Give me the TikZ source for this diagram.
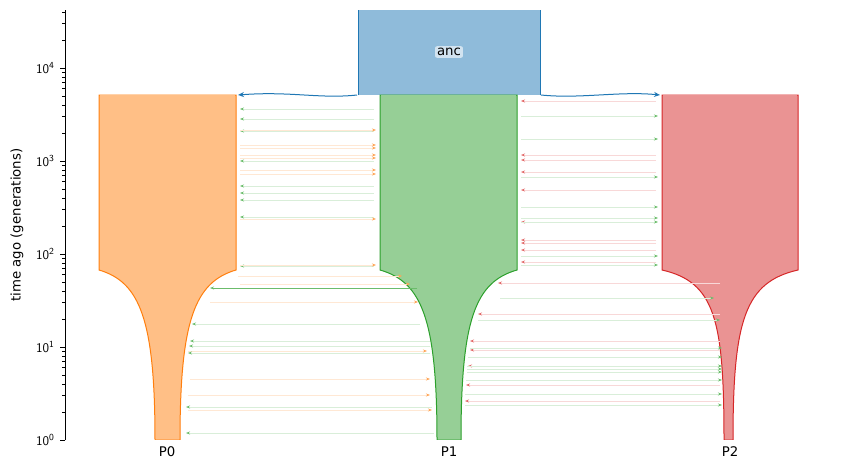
\documentclass[tikz,border=0pt]{standalone}
\usepackage{fontspec}
\setmainfont{DejaVu Sans}
\usetikzlibrary{arrows.meta}
\definecolor{tO}{HTML}{FF7F0E}\definecolor{tG}{HTML}{2CA02C}\definecolor{tR}{HTML}{D62728}\definecolor{tB}{HTML}{1F77B4}
\begin{document}
\begin{tikzpicture}[x=1pt,y=-1pt,
  lab/.style={font=\fontsize{13.3}{15}\selectfont},
  mig/.style={draw=#1!18,line width=0.7pt,-{Stealth[length=4pt,width=3pt,color=#1!70]}},
  deme/.style={line width=1pt}]
\useasboundingbox (0,0) rectangle (843,469);
% axis
\draw[line width=0.8pt] (65,10) -- (65,440);
\foreach \e in {0,...,4}{
  \draw[line width=0.8pt] (65,440-93*\e) -- (60,440-93*\e);
  \node[lab,anchor=east] (t\e) at (58,440-93*\e) {$\mathsf{10^{\e}}$};
  \foreach \m in {2,...,9}{
    \pgfmathsetmacro\yy{440-93*(\e+log10(\m))}
    \ifdim\yy pt>10pt \draw[line width=0.5pt] (65,\yy) -- (62,\yy);\fi
  }}
\node[lab,rotate=90] (yl) at (17,225) {time ago (generations)};
% anc
\fill[tB!50] (358,10) rectangle (540,95);
\draw[deme,tB] (358,95) -- (358,10) (540,10) -- (540,95);
\node[lab,fill=white,fill opacity=0.6,text opacity=1,rounded corners=2pt,inner sep=2pt] (anc) at (449,52) {anc};
% demes
\draw[deme,draw=tO,fill=tO!50] (99,95) -- (236,95) -- (236,270)
  .. controls (195,282) and (180,320) .. (180,440) -- (155,440)
  .. controls (155,320) and (140,282) .. (99,270) -- cycle;
\draw[deme,draw=tG,fill=tG!50] (380,95) -- (517,95) -- (517,270)
  .. controls (475,282) and (461,320) .. (461,440) -- (437,440)
  .. controls (437,320) and (422,282) .. (380,270) -- cycle;
\draw[deme,draw=tR,fill=tR!50] (662,95) -- (798,95) -- (798,270)
  .. controls (745,282) and (733,320) .. (733,440) -- (724,440)
  .. controls (724,320) and (715,282) .. (662,270) -- cycle;
\draw[tO!50,line width=1.4pt] (99.6,95.2) -- (235.4,95.2);
\draw[tG!50,line width=1.4pt] (380.6,95.2) -- (516.4,95.2);
\draw[tR!50,line width=1.4pt] (662.6,95.2) -- (797.4,95.2);
\draw[white,line width=1.4pt] (98,440.9) -- (182,440.9) (436,440.9) -- (462,440.9) (723,440.9) -- (734,440.9);
% ancestry arrows
\coordinate (a0) at (238,95); \coordinate (a2) at (660,95);
\draw[tB,line width=1pt,-{Stealth[length=6pt,width=5pt,open]}] (357,95) .. controls (320,99) and (290,91) .. (a0);
\draw[tB,line width=1pt,-{Stealth[length=6pt,width=5pt,open]}] (541,95) .. controls (580,99) and (620,91) .. (a2);
% migrations P0 <-> P1
\foreach \y in {109,119,131,161,186,193,200,217,266}{\draw[mig=tG] (374,\y) -- (240,\y);}
\foreach \y in {130,145,148,155,158,170,174,219,265}{\draw[mig=tO] (240,\y) -- (376,\y);}
\foreach \y/\a/\b in {276/238/402,284/240/410,302/210/418,379/190/430,395/188/430,410/188/432,351/188/427}{\draw[mig=tO] (\a,\y) -- (\b,\y);}
\foreach \y/\a/\b in {324/420/192,341/430/190,346/430/189,353/430/188,407/432/186,433/434/186}{\draw[mig=tG] (\a,\y) -- (\b,\y);}
\draw[tG!70,line width=0.6pt,-{Stealth[length=4pt,width=3pt]}] (417,288) -- (210,288);
% P1 <-> P2
\foreach \y in {101,155,160,172,190,222,240,243,250,262}{\draw[mig=tR] (656,\y) -- (521,\y);}
\foreach \y/\b in {283/498,314/478,341/470,350/470,366/468,385/466,401/465}{\draw[mig=tR] (720,\y) -- (\b,\y);}
\foreach \y in {116,139,177,207,218,222,256,265}{\draw[mig=tG] (521,\y) -- (658,\y);}
\foreach \y/\a/\b in {298/500/714,320/478/720,348/470/722,357/468/722,366/467/722,369/467/722,372/467/722,380/466/722,394/465/722,405/465/722}{\draw[mig=tG] (\a,\y) -- (\b,\y);}
% labels
\node[lab] (p0) at (167,452) {P0};
\node[lab] (p1) at (449,452) {P1};
\node[lab] (p2) at (730,452) {P2};
\end{tikzpicture}
\end{document}
